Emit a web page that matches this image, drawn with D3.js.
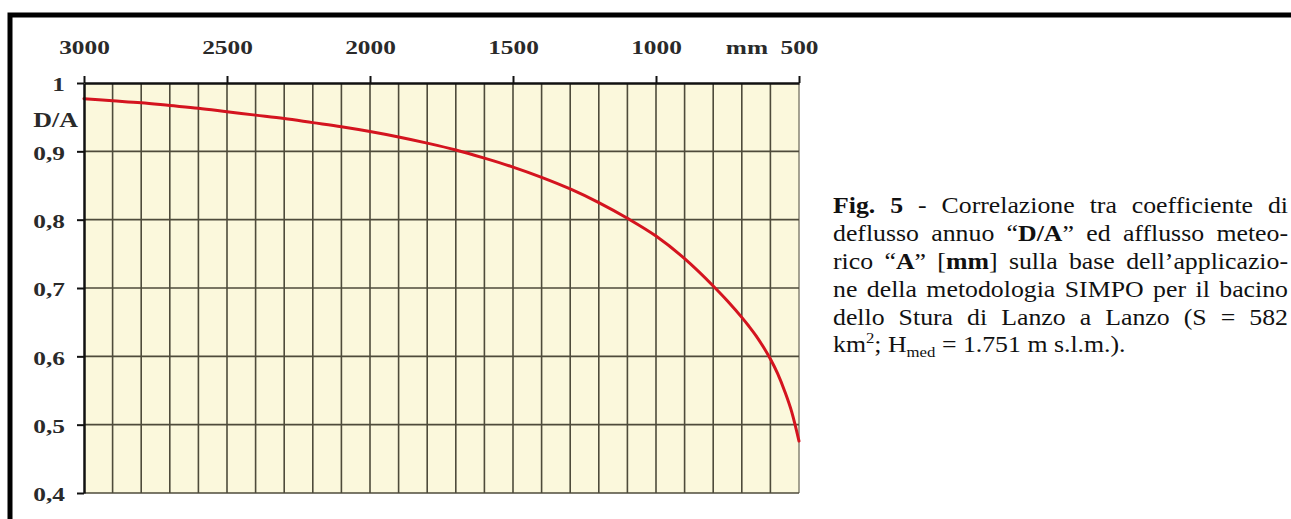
<!DOCTYPE html>
<html>
<head>
<meta charset="utf-8">
<script src="https://cdn.jsdelivr.net/npm/d3@7/dist/d3.min.js"></script>
<style>
  body { margin: 0; background: #fff; }
  svg { display: block; }
</style>
</head>
<body>
<div id="chart"></div>
<script>
// afflusso meteorico A [mm] and coefficiente di deflusso D/A
const rainfall = [3000, 2900, 2800, 2700, 2600, 2500, 2400, 2300, 2200, 2100, 2000, 1900, 1800, 1700,
  1600, 1500, 1400, 1300, 1200, 1100, 1000, 900, 800, 750, 700, 675, 650, 625, 600, 575, 550, 525, 500];
const runoffRatio = [0.977, 0.974, 0.971, 0.967, 0.963, 0.958, 0.953, 0.948, 0.942, 0.936, 0.929, 0.921, 0.912, 0.902,
  0.890, 0.877, 0.862, 0.845, 0.825, 0.802, 0.776, 0.743, 0.703, 0.681, 0.657, 0.644, 0.630, 0.614, 0.596, 0.575, 0.549, 0.518, 0.476];

const xTicks = [3000, 2500, 2000, 1500, 1000, 500];
const yTicks = [0.4, 0.5, 0.6, 0.7, 0.8, 0.9, 1];
const yTickLabels = ["0,4", "0,5", "0,6", "0,7", "0,8", "0,9", "1"];

// caption, one array of words per line; each word is a list of [text, style]
const caption = [
  [[["Fig.", "b"]], [["5", "b"]], [["-"]], [["Correlazione"]], [["tra"]], [["coefficiente"]], [["di"]]],
  [[["deflusso"]], [["annuo"]], [["\u201C"], ["D/A", "b"], ["\u201D"]], [["ed"]], [["afflusso"]], [["meteo-"]]],
  [[["rico"]], [["\u201C"], ["A", "b"], ["\u201D"]], [["["], ["mm", "b"], ["]"]], [["sulla"]], [["base"]], [["dell\u2019applicazio-"]]],
  [[["ne"]], [["della"]], [["metodologia"]], [["SIMPO"]], [["per"]], [["il"]], [["bacino"]]],
  [[["dello"]], [["Stura"]], [["di"]], [["Lanzo"]], [["a"]], [["Lanzo"]], [["(S"]], [["="]], [["582"]]],
  [[["km"], ["2", "sup"], [";"]], [["H"], ["med", "sub"]], [["="]], [["1.751"]], [["m"]], [["s.l.m.)."]]]
];

const width = 1291;
const height = 519;
const serif = "'Liberation Serif', 'Times New Roman', serif";
const stretch = 1.3;

const svg = d3.select("#chart")
  .append("svg")
  .attr("width", width)
  .attr("height", height);

svg.append("rect").attr("width", width).attr("height", height).attr("fill", "#fff");

const x = d3.scaleLinear().domain([3000, 500]).range([84, 799]);
const y = d3.scaleLinear().domain([0.4, 1]).range([493, 83]);

// plot background
svg.append("rect")
  .attr("x", x(3000))
  .attr("y", y(1))
  .attr("width", x(500) - x(3000))
  .attr("height", y(0.4) - y(1))
  .attr("fill", "#fbf8dc");

// grid
const grid = svg.append("g").attr("stroke", "#4e4b3b").attr("stroke-width", 1.6);
grid.selectAll("line.v")
  .data(d3.range(600, 3000, 100))
  .join("line")
  .attr("class", "v")
  .attr("x1", d => x(d)).attr("x2", d => x(d))
  .attr("y1", y(1)).attr("y2", y(0.4));
grid.append("line")
  .attr("x1", x(500)).attr("x2", x(500))
  .attr("y1", y(1)).attr("y2", y(0.4))
  .attr("stroke", "#8e8b7b");
grid.selectAll("line.h")
  .data(yTicks.filter(d => d < 1))
  .join("line")
  .attr("class", "h")
  .attr("x1", x(3000)).attr("x2", x(500))
  .attr("y1", d => y(d)).attr("y2", d => y(d));

// curve
const line = d3.line()
  .x((d, i) => x(rainfall[i]))
  .y(d => y(d))
  .curve(d3.curveMonotoneX);

svg.append("path")
  .datum(runoffRatio)
  .attr("fill", "none")
  .attr("stroke", "#d4141f")
  .attr("stroke-width", 3)
  .attr("stroke-linecap", "round")
  .attr("d", line);

// axes
const topAxis = svg.append("g")
  .attr("transform", `translate(0,${y(1)})`)
  .call(d3.axisTop(x).tickValues(xTicks).tickSize(7).tickSizeOuter(0).tickPadding(22).tickFormat(d3.format("d")));

const leftAxis = svg.append("g")
  .attr("transform", `translate(${x(3000)},0)`)
  .call(d3.axisLeft(y).tickValues(yTicks).tickSize(7).tickSizeOuter(0).tickPadding(12)
    .tickFormat((d, i) => yTickLabels[i]));

[topAxis, leftAxis].forEach(g => {
  g.select(".domain").attr("stroke", "#111").attr("stroke-width", 2.5);
  g.selectAll(".tick line").attr("stroke", "#111").attr("stroke-width", 2);
  g.selectAll(".tick text")
    .attr("fill", "#2a2a2a")
    .attr("font-family", serif)
    .attr("font-weight", "bold")
    .attr("font-size", 19.5)
    .attr("transform", `scale(${stretch},1)`);
});
leftAxis.selectAll(".tick text").attr("x", -19 / stretch).attr("dy", "0.4em");

svg.append("text")
  .attr("transform", `translate(${x(500) - 31},54) scale(${stretch},1)`)
  .attr("text-anchor", "end")
  .attr("font-family", serif).attr("font-weight", "bold").attr("font-size", 19.5)
  .attr("fill", "#2a2a2a")
  .text("mm");

svg.append("text")
  .attr("transform", `translate(78,127) scale(${stretch},1)`)
  .attr("text-anchor", "end")
  .attr("font-family", serif).attr("font-weight", "bold").attr("font-size", 20)
  .attr("fill", "#2a2a2a")
  .text("D/A");

// frame
svg.append("path")
  .attr("d", `M10,${height} V15 H${width}`)
  .attr("fill", "none")
  .attr("stroke", "#000")
  .attr("stroke-width", 5);

// caption, justified
const capX = 833, capRight = 1288, capTop = 213, capStep = 27.9, capSize = 24, capScale = 1.075;
const capW = (capRight - capX) / capScale;
const cap = svg.append("g")
  .attr("transform", `translate(${capX},0) scale(${capScale},1)`)
  .attr("font-family", serif)
  .attr("font-size", capSize)
  .attr("fill", "#111");

caption.forEach((words, li) => {
  const base = capTop + li * capStep;
  const nodes = words.map(segs => {
    const t = cap.append("text").attr("y", base);
    let shift = 0;
    segs.forEach(([s, st]) => {
      const ts = t.append("tspan").text(s);
      const want = st === "sub" ? 5 : st === "sup" ? -9 : 0;
      if (want !== shift) { ts.attr("dy", want - shift); shift = want; }
      if (st === "b") ts.attr("font-weight", "bold");
      if (st === "sub" || st === "sup") ts.attr("font-size", capSize * 0.65);
    });
    return t;
  });
  const widths = nodes.map(t => t.node().getComputedTextLength());
  const total = d3.sum(widths);
  const last = li === caption.length - 1;
  const gap = last ? capSize * 0.25 : (capW - total) / (words.length - 1);
  let cx = 0;
  nodes.forEach((t, i) => {
    t.attr("x", cx);
    cx += widths[i] + gap;
  });
});
</script>
</body>
</html>
